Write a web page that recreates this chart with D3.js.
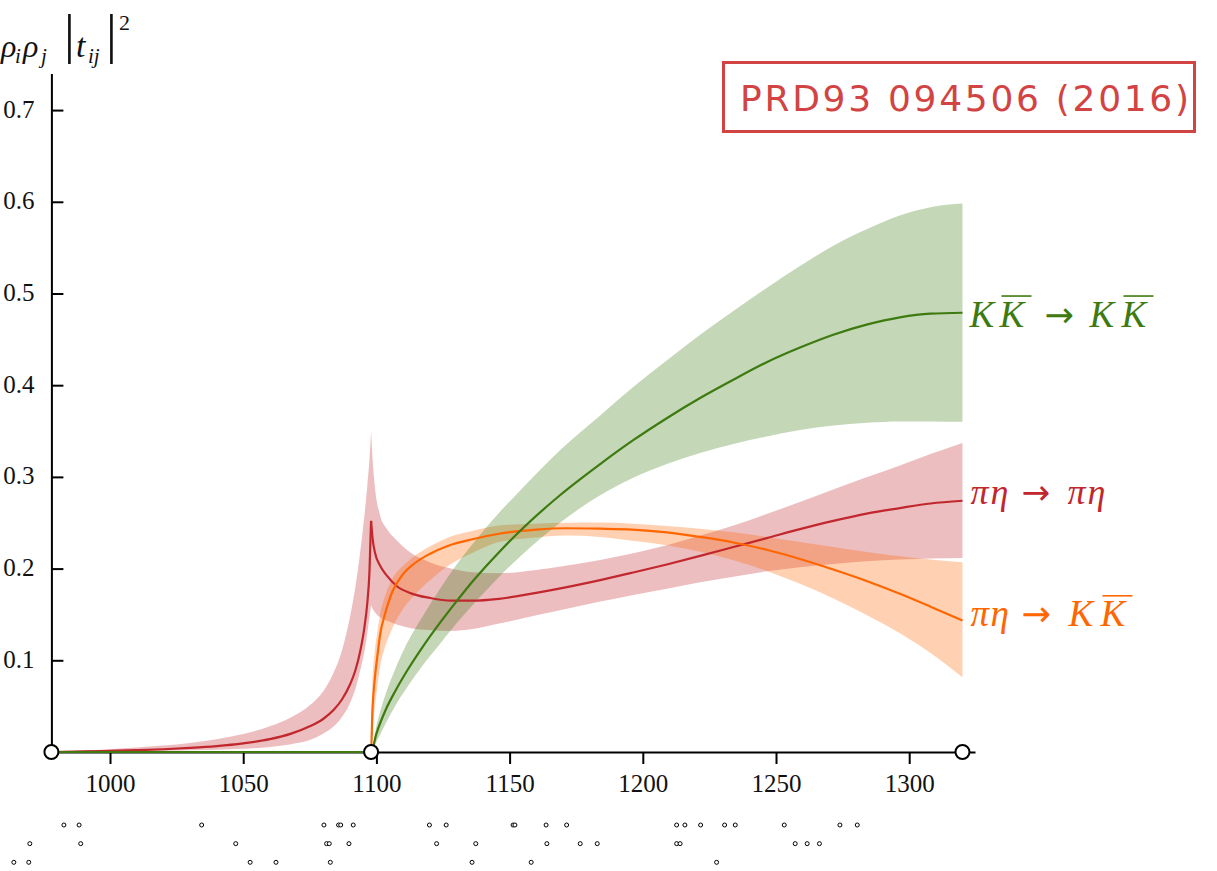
<!DOCTYPE html>
<html>
<head>
<meta charset="utf-8">
<script src="https://cdn.jsdelivr.net/npm/d3@7"></script>
<style>
  html, body { margin: 0; padding: 0; background: #fff; overflow: hidden; }
  svg { display: block; }
</style>
</head>
<body>
<svg id="chart" width="1217" height="871"></svg>
<script>
// ---------------------------------------------------------------
// Data: rho_i rho_j |t_ij|^2 versus E_cm (MeV), central value and
// lower / upper edge of the uncertainty band for each channel.
// ---------------------------------------------------------------

// pi eta -> pi eta, below the K Kbar threshold
const pePeBelowE   = [978, 990, 1000, 1010, 1020, 1030, 1040, 1050, 1060, 1068, 1075, 1080, 1084, 1087, 1090, 1092, 1094, 1095.5, 1096.6, 1097.4, 1098];
const pePeBelowMid = [0, 0.0006, 0.0012, 0.002, 0.003, 0.0045, 0.0065, 0.0095, 0.014, 0.02, 0.028, 0.036, 0.046, 0.057, 0.073, 0.088, 0.111, 0.136, 0.163, 0.197, 0.252];
const pePeBelowLo  = [0, 0.0002, 0.0004, 0.0008, 0.0012, 0.0018, 0.0025, 0.0035, 0.0055, 0.0085, 0.013, 0.02, 0.028, 0.038, 0.053, 0.068, 0.09, 0.11, 0.13, 0.147, 0.16];
const pePeBelowHi  = [0, 0.0015, 0.003, 0.0048, 0.007, 0.0098, 0.0138, 0.0195, 0.028, 0.038, 0.051, 0.066, 0.087, 0.11, 0.146, 0.178, 0.22, 0.258, 0.291, 0.319, 0.35];

// pi eta -> pi eta, above the K Kbar threshold
const pePeAboveE   = [1098, 1098.6, 1099.5, 1101.4, 1104, 1107.6, 1113, 1120, 1128, 1136, 1146, 1160, 1171, 1184, 1196, 1209, 1221.5, 1234, 1246.5, 1259, 1271.5, 1284, 1296.5, 1308, 1320];
const pePeAboveMid = [0.252, 0.232, 0.217, 0.203, 0.192, 0.181, 0.173, 0.168, 0.165, 0.165, 0.167, 0.1735, 0.1795, 0.1875, 0.1955, 0.2045, 0.2138, 0.2235, 0.2332, 0.243, 0.252, 0.26, 0.266, 0.271, 0.274];
const pePeAboveLo  = [0.16, 0.156, 0.152, 0.147, 0.143, 0.139, 0.135, 0.133, 0.132, 0.134, 0.14, 0.149, 0.156, 0.164, 0.171, 0.178, 0.185, 0.191, 0.197, 0.2015, 0.205, 0.208, 0.21, 0.211, 0.2115];
const pePeAboveHi  = [0.35, 0.318, 0.287, 0.258, 0.243, 0.231, 0.217, 0.207, 0.2, 0.196, 0.195, 0.1985, 0.203, 0.2095, 0.2165, 0.2255, 0.236, 0.247, 0.2595, 0.2727, 0.2862, 0.2995, 0.3125, 0.325, 0.337];

// pi eta -> K Kbar
const peKkE   = [978, 1098, 1098.5, 1099.3, 1100.3, 1101.5, 1103, 1106, 1110, 1114, 1120, 1127, 1136, 1146, 1160, 1171, 1184, 1196, 1209, 1221.5, 1234, 1246.5, 1259, 1271.5, 1284, 1296.5, 1308, 1320];
const peKkMid = [0, 0, 0.045, 0.077, 0.103, 0.13, 0.148, 0.175, 0.194, 0.205, 0.216, 0.225, 0.232, 0.238, 0.2425, 0.244, 0.2435, 0.2425, 0.2395, 0.2345, 0.2285, 0.2205, 0.2105, 0.199, 0.1865, 0.1725, 0.1585, 0.1434];
const peKkLo  = [0, 0, 0.02, 0.046, 0.07, 0.095, 0.112, 0.135, 0.156, 0.17, 0.187, 0.203, 0.217, 0.229, 0.234, 0.236, 0.2345, 0.2305, 0.2255, 0.2185, 0.209, 0.1975, 0.1835, 0.1675, 0.1495, 0.1295, 0.108, 0.0816];
const peKkHi  = [0, 0, 0.075, 0.107, 0.13, 0.152, 0.168, 0.189, 0.203, 0.213, 0.224, 0.234, 0.241, 0.247, 0.249, 0.25, 0.2502, 0.249, 0.2465, 0.2435, 0.2395, 0.2345, 0.229, 0.2235, 0.218, 0.2135, 0.21, 0.207];

// K Kbar -> K Kbar
const kkKkE   = [978, 1098, 1100, 1103.8, 1107, 1111.4, 1117, 1123.9, 1130, 1136.4, 1146.4, 1153.9, 1168.9, 1184, 1196.4, 1209, 1221.5, 1234, 1246.5, 1259, 1271.5, 1284, 1296.5, 1308, 1320];
const kkKkMid = [0, 0, 0.02, 0.048, 0.066, 0.088, 0.113, 0.141, 0.164, 0.187, 0.219, 0.241, 0.28, 0.314, 0.34, 0.364, 0.386, 0.406, 0.425, 0.441, 0.455, 0.466, 0.474, 0.478, 0.479];
const kkKkLo  = [0, 0, 0.011, 0.033, 0.05, 0.07, 0.093, 0.118, 0.14, 0.161, 0.192, 0.213, 0.25, 0.28, 0.299, 0.314, 0.326, 0.336, 0.344, 0.351, 0.356, 0.359, 0.3605, 0.3605, 0.36];
const kkKkHi  = [0, 0, 0.028, 0.066, 0.09, 0.118, 0.146, 0.178, 0.204, 0.228, 0.262, 0.285, 0.329, 0.367, 0.398, 0.427, 0.455, 0.481, 0.506, 0.53, 0.552, 0.57, 0.585, 0.594, 0.598];

// Thresholds / ends of the energy range, marked on the axis
const axisMarks = [978, 1098, 1320];

// Energy levels listed under the axis, three rows
const levelRow1 = [982.7, 988.4, 1034.4, 1080.3, 1085.8, 1086.6, 1091.3, 1119.9, 1126.2, 1151.3, 1152.0, 1163.7, 1171.4, 1212.7, 1215.8, 1221.7, 1230.7, 1234.7, 1253.1, 1274.0, 1280.5];
const levelRow2 = [969.9, 989.0, 1047.2, 1081.3, 1082.3, 1089.7, 1122.6, 1137.3, 1164.0, 1176.5, 1182.9, 1212.7, 1214.0, 1257.2, 1261.7, 1266.3];
const levelRow3 = [963.9, 969.5, 1052.6, 1062.3, 1082.7, 1135.9, 1158.1, 1227.7];

// Axis ticks
const xTicks = [1000, 1050, 1100, 1150, 1200, 1250, 1300];
const yTicks = [0.1, 0.2, 0.3, 0.4, 0.5, 0.6, 0.7];

const citation = "PRD93 094506 (2016)";

// ---------------------------------------------------------------
const RED = "#c1272d", ORANGE = "#ff6600", GREEN = "#3d7a0f";
const svg = d3.select("#chart");

const x = d3.scaleLinear().domain([978, 1324.7]).range([51.4, 975]);
const y = d3.scaleLinear().domain([0, 0.74]).range([752, 73.4]);

const zip = (E, mid, lo, hi) => E.map((e, i) => ({ e, mid: mid[i], lo: lo[i], hi: hi[i] }));

const channels = {
  pePeBelow: zip(pePeBelowE, pePeBelowMid, pePeBelowLo, pePeBelowHi),
  pePeAbove: zip(pePeAboveE, pePeAboveMid, pePeAboveLo, pePeAboveHi),
  peKk: zip(peKkE, peKkMid, peKkLo, peKkHi),
  kkKk: zip(kkKkE, kkKkMid, kkKkLo, kkKkHi)
};

// ---- axes ----
const serif = '"Liberation Serif", "Times New Roman", serif';

const xAxis = svg.append("g")
  .attr("transform", `translate(0,${y(0)})`)
  .call(d3.axisBottom(x).tickValues(xTicks).tickSize(12).tickSizeOuter(0).tickPadding(10)
    .tickFormat(d3.format("d")));
xAxis.select(".domain").attr("stroke", "#000").attr("stroke-width", 2);
xAxis.selectAll(".tick line").attr("stroke", "#000").attr("stroke-width", 2);
xAxis.selectAll(".tick text").attr("font-family", serif).attr("font-size", 25).attr("fill", "#111");

const yAxis = svg.append("g")
  .attr("transform", `translate(${x(978)},0)`)
  .call(d3.axisLeft(y).tickValues(yTicks).tickSize(-12).tickSizeOuter(0).tickPadding(17)
    .tickFormat(d3.format(".1f")));
yAxis.select(".domain").attr("stroke", "#000").attr("stroke-width", 2);
yAxis.selectAll(".tick line").attr("stroke", "#000").attr("stroke-width", 2);
yAxis.selectAll(".tick text").attr("font-family", serif).attr("font-size", 25)
  .attr("fill", "#111").attr("dy", "0.28em");

// ---- y axis title: rho_i rho_j |t_ij|^2 ----
const yt = svg.append("text").attr("font-family", serif).attr("fill", "#111");
const ytParts = [
  { s: "ρ", x: 1, y: 57, size: 32, it: true },
  { s: "i", x: 15, y: 63, size: 21, it: true },
  { s: "ρ", x: 23, y: 57, size: 32, it: true },
  { s: "j", x: 41, y: 63, size: 21, it: true },
  { s: "|", x: 64, y: 52, size: 54, it: false },
  { s: "t", x: 76, y: 57, size: 34, it: true },
  { s: "ij", x: 88, y: 63, size: 21, it: true },
  { s: "|", x: 106, y: 52, size: 54, it: false },
  { s: "2", x: 119, y: 30, size: 22, it: false }
];
ytParts.forEach(p => {
  yt.append("tspan").attr("x", p.x).attr("y", p.y).attr("font-size", p.size)
    .attr("font-style", p.it ? "italic" : "normal").text(p.s);
});

// ---- bands and curves ----
const area = d3.area().curve(d3.curveMonotoneX)
  .x(d => x(d.e)).y0(d => y(d.lo)).y1(d => y(d.hi));
const line = d3.line().curve(d3.curveMonotoneX)
  .x(d => x(d.e)).y(d => y(d.mid));

const plot = svg.append("g");
const bands = [
  [channels.pePeBelow, RED], [channels.pePeAbove, RED],
  [channels.peKk, ORANGE], [channels.kkKk, GREEN]
];
bands.forEach(([data, c]) => {
  plot.append("path").datum(data).attr("d", area)
    .attr("fill", c).attr("fill-opacity", 0.3).attr("stroke", "none");
});
bands.forEach(([data, c]) => {
  plot.append("path").datum(data).attr("d", line)
    .attr("fill", "none").attr("stroke", c).attr("stroke-width", 2.2)
    .attr("stroke-linejoin", "miter");
});

// ---- threshold markers on the axis ----
svg.append("g").selectAll("circle").data(axisMarks).join("circle")
  .attr("cx", d => x(d)).attr("cy", y(0)).attr("r", 7)
  .attr("fill", "#fff").attr("stroke", "#000").attr("stroke-width", 2);

// ---- energy levels below the axis ----
const rowY = d3.scalePoint().domain([0, 1, 2]).range([825, 862.3]);
[levelRow1, levelRow2, levelRow3].forEach((row, r) => {
  svg.append("g").selectAll("circle").data(row).join("circle")
    .attr("cx", d => x(d)).attr("cy", rowY(r)).attr("r", 2)
    .attr("fill", "#fff").attr("stroke", "#000").attr("stroke-width", 1);
});

// ---- channel labels at the right end of each curve ----
function mathLabel(parts, x0, base, color, size) {
  const g = svg.append("g").attr("fill", color);
  parts.forEach(p => {
    const t = g.append("text").attr("x", x0 + p.dx).attr("y", base)
      .attr("font-family", p.up ? '"DejaVu Sans", sans-serif' : serif)
      .attr("font-size", p.up ? size * 0.95 : size)
      .attr("font-style", p.up ? "normal" : "italic").text(p.s);
    if (p.bar) {
      const b = t.node().getBBox();
      g.append("line")
        .attr("x1", b.x + 3).attr("x2", b.x + Math.max(b.width, 28) + 5)
        .attr("y1", base - size * 0.83).attr("y2", base - size * 0.83)
        .attr("stroke", color).attr("stroke-width", 1.6);
    }
  });
}
const xEnd = x(1320);
mathLabel([
  { s: "K", dx: 0 }, { s: "K", dx: 30, bar: true }, { s: "→", dx: 75, up: true },
  { s: "K", dx: 120 }, { s: "K", dx: 152, bar: true }
], xEnd + 7, y(kkKkMid[kkKkMid.length - 1]) + 14, GREEN, 37);
mathLabel([
  { s: "π", dx: 0 }, { s: "η", dx: 20 }, { s: "→", dx: 51, up: true },
  { s: "π", dx: 97 }, { s: "η", dx: 117 }
], xEnd + 8, y(pePeAboveMid[pePeAboveMid.length - 1]) + 3, RED, 36);
mathLabel([
  { s: "π", dx: 0 }, { s: "η", dx: 20 }, { s: "→", dx: 51, up: true },
  { s: "K", dx: 98 }, { s: "K", dx: 130, bar: true }
], xEnd + 8, y(peKkMid[peKkMid.length - 1]) + 6, ORANGE, 37);

// ---- citation box ----
const CIT = "#d24343";
svg.append("rect").attr("x", 723.5).attr("y", 62.5).attr("width", 471).attr("height", 69)
  .attr("fill", "#fff").attr("stroke", CIT).attr("stroke-width", 3);
svg.append("text").attr("x", 740).attr("y", 111)
  .attr("font-family", '"DejaVu Sans", sans-serif').attr("font-size", 36)
  .attr("textLength", 449).attr("lengthAdjust", "spacing")
  .attr("fill", CIT).text(citation);
</script>
</body>
</html>
